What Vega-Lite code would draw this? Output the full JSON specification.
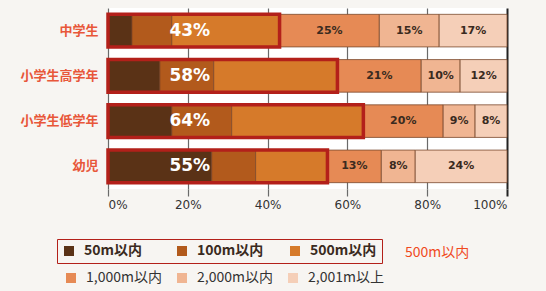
{
  "$schema": "https://vega.github.io/schema/vega-lite/v6.json",
  "autosize": {"type": "none"},
  "padding": {"left": 108, "top": 8, "right": 39, "bottom": 102},
  "width": 399,
  "height": 181,
  "background": "#f7f5f2",
  "view": {"fill": "#ffffff", "stroke": null},
  "title": {"text": "500m以内", "orient": "bottom", "anchor": "start", "frame": "group", "dx": 297, "dy": -47, "fontSize": 14, "color": "#f04a1e", "font": "Noto Sans CJK JP", "fontWeight": "normal"},
  "datasets": {
    "segments": [
      {"group": "中学生", "cat": "50m以内", "order": 1, "value": 6, "near": true, "label": ""},
      {"group": "中学生", "cat": "100m以内", "order": 2, "value": 10, "near": true, "label": ""},
      {"group": "中学生", "cat": "500m以内", "order": 3, "value": 27, "near": true, "label": ""},
      {"group": "中学生", "cat": "1,000m以内", "order": 4, "value": 25, "near": false, "label": "25%"},
      {"group": "中学生", "cat": "2,000m以内", "order": 5, "value": 15, "near": false, "label": "15%"},
      {"group": "中学生", "cat": "2,001m以上", "order": 6, "value": 17, "near": false, "label": "17%"},
      {"group": "小学生高学年", "cat": "50m以内", "order": 1, "value": 13, "near": true, "label": ""},
      {"group": "小学生高学年", "cat": "100m以内", "order": 2, "value": 13.5, "near": true, "label": ""},
      {"group": "小学生高学年", "cat": "500m以内", "order": 3, "value": 31, "near": true, "label": ""},
      {"group": "小学生高学年", "cat": "1,000m以内", "order": 4, "value": 21, "near": false, "label": "21%"},
      {"group": "小学生高学年", "cat": "2,000m以内", "order": 5, "value": 9.75, "near": false, "label": "10%"},
      {"group": "小学生高学年", "cat": "2,001m以上", "order": 6, "value": 11.75, "near": false, "label": "12%"},
      {"group": "小学生低学年", "cat": "50m以内", "order": 1, "value": 16, "near": true, "label": ""},
      {"group": "小学生低学年", "cat": "100m以内", "order": 2, "value": 15, "near": true, "label": ""},
      {"group": "小学生低学年", "cat": "500m以内", "order": 3, "value": 33, "near": true, "label": ""},
      {"group": "小学生低学年", "cat": "1,000m以内", "order": 4, "value": 20, "near": false, "label": "20%"},
      {"group": "小学生低学年", "cat": "2,000m以内", "order": 5, "value": 8, "near": false, "label": "9%"},
      {"group": "小学生低学年", "cat": "2,001m以上", "order": 6, "value": 8, "near": false, "label": "8%"},
      {"group": "幼児", "cat": "50m以内", "order": 1, "value": 26, "near": true, "label": ""},
      {"group": "幼児", "cat": "100m以内", "order": 2, "value": 11, "near": true, "label": ""},
      {"group": "幼児", "cat": "500m以内", "order": 3, "value": 18, "near": true, "label": ""},
      {"group": "幼児", "cat": "1,000m以内", "order": 4, "value": 13.5, "near": false, "label": "13%"},
      {"group": "幼児", "cat": "2,000m以内", "order": 5, "value": 8.5, "near": false, "label": "8%"},
      {"group": "幼児", "cat": "2,001m以上", "order": 6, "value": 23, "near": false, "label": "24%"}
    ],
    "totals": [
      {"group": "中学生", "near": 43, "label": "43%"},
      {"group": "小学生高学年", "near": 57.5, "label": "58%"},
      {"group": "小学生低学年", "near": 64, "label": "64%"},
      {"group": "幼児", "near": 55, "label": "55%"}
    ]
  },
  "encoding": {
    "y": {
      "field": "group", "type": "nominal",
      "scale": {"domain": ["中学生", "小学生高学年", "小学生低学年", "幼児"], "paddingInner": 0.28, "paddingOuter": 0.14},
      "axis": {"title": null, "ticks": false, "domain": false, "labelPadding": 10, "labelFontSize": 13, "labelFontWeight": "bold", "labelColor": "#e8573a", "labelFont": "Noto Sans CJK JP"}
    }
  },
  "layer": [
    {
      "data": {"name": "segments"},
      "transform": [
        {"stack": "value", "groupby": ["group"], "sort": [{"field": "order"}], "as": ["x0", "x1"]},
        {"filter": "datum.near"}
      ],
      "mark": {"type": "bar", "stroke": "#6b3a22", "strokeWidth": 0.6},
      "encoding": {
        "x": {"field": "x0", "type": "quantitative", "scale": {"domain": [0, 100], "nice": false},
          "axis": {"title": null, "values": [0, 20, 40, 60, 80, 100], "labelExpr": "datum.value + '%'", "domain": false, "grid": true,
            "gridColor": {"condition": {"test": "datum.value === 100", "value": "#222222"}, "value": "#6a6a6a"},
            "gridWidth": {"condition": {"test": "datum.value === 100", "value": 2}, "value": 1.2},
            "tickColor": {"condition": {"test": "datum.value === 100", "value": "#222222"}, "value": "#6a6a6a"},
            "tickWidth": {"condition": {"test": "datum.value === 100", "value": 2}, "value": 1.2},
            "tickSize": 7, "labelFontSize": 12, "labelColor": "#333333", "labelPadding": 3, "labelFont": "DejaVu Sans"}},
        "x2": {"field": "x1"},
        "fill": {"field": "cat", "type": "nominal",
          "scale": {"domain": ["50m以内", "100m以内", "500m以内"], "range": ["#5a3216", "#b25a1c", "#d67a2a"]},
          "legend": {"orient": "none", "legendX": -51, "legendY": 231, "direction": "horizontal", "columns": 3, "title": null,
            "symbolType": "square", "symbolSize": 100, "symbolStrokeWidth": 0, "labelFontSize": 14, "labelFontWeight": "bold",
            "labelColor": "#3a2a20", "labelFont": "Noto Sans CJK JP", "columnPadding": 24, "gridAlign": "all", "padding": 5,
            "labelOffset": 8, "strokeColor": "#b3201a", "encode": {"legend": {"update": {"strokeWidth": {"value": 3}}}}}
        }
      }
    },
    {
      "data": {"name": "segments"},
      "transform": [
        {"stack": "value", "groupby": ["group"], "sort": [{"field": "order"}], "as": ["x0", "x1"]},
        {"filter": "!datum.near"}
      ],
      "mark": {"type": "bar", "stroke": "#7a4a2e", "strokeWidth": 0.8},
      "encoding": {
        "x": {"field": "x0", "type": "quantitative"},
        "x2": {"field": "x1"},
        "color": {"field": "cat", "type": "nominal",
          "scale": {"domain": ["1,000m以内", "2,000m以内", "2,001m以上"], "range": ["#e68a55", "#f0b592", "#f5cfb8"]},
          "legend": {"orient": "none", "legendX": -48, "legendY": 259, "direction": "horizontal", "columns": 3, "title": null,
            "symbolType": "square", "symbolSize": 100, "symbolStrokeWidth": 0, "labelFontSize": 14, "labelFontWeight": "normal",
            "labelColor": "#333333", "labelFont": "Noto Sans CJK JP", "columnPadding": 13, "gridAlign": "all", "padding": 4, "labelOffset": 8}
        }
      }
    },
    {
      "data": {"name": "totals"},
      "mark": {"type": "bar", "fillOpacity": 0, "stroke": "#b3201a", "strokeWidth": 3.5},
      "encoding": {
        "x": {"field": "near", "type": "quantitative"}
      }
    },
    {
      "data": {"name": "segments"},
      "transform": [
        {"stack": "value", "groupby": ["group"], "sort": [{"field": "order"}], "as": ["x0", "x1"]},
        {"filter": "!datum.near"},
        {"calculate": "(datum.x0 + datum.x1) / 2", "as": "xmid"}
      ],
      "mark": {"type": "text", "fontSize": 11, "fontWeight": "bold", "color": "#3a2a20", "font": "DejaVu Sans"},
      "encoding": {
        "x": {"field": "xmid", "type": "quantitative"},
        "text": {"field": "label"}
      }
    },
    {
      "data": {"name": "totals"},
      "mark": {"type": "text", "fontSize": 17, "fontWeight": "bold", "color": "#ffffff", "font": "DejaVu Sans"},
      "encoding": {
        "x": {"datum": 20.5, "type": "quantitative"},
        "text": {"field": "label"}
      }
    }
  ]
}
